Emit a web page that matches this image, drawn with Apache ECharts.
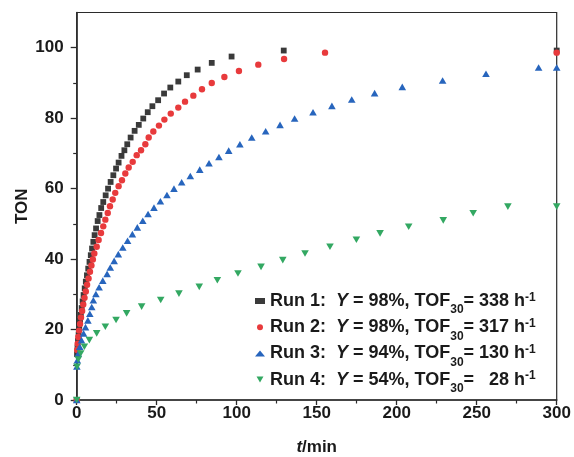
<!DOCTYPE html>
<html>
<head>
<meta charset="utf-8">
<script src="https://cdn.jsdelivr.net/npm/echarts@6/dist/echarts.min.js"></script>
<style>
  html, body { margin: 0; padding: 0; background: #ffffff; }
  #chart { width: 574px; height: 457px; }
</style>
</head>
<body>
<div id="chart"></div>
<script>
// Reaction time (min) and turnover number for four consecutive runs
const run1Time = [0, 0.2, 0.5, 0.8, 1.2, 1.6, 2.1, 2.6, 3.1, 3.7, 4.3, 5.0, 5.7, 6.4, 7.2, 8.0, 8.8, 9.6, 10.4, 11.2, 12.1, 13.1, 14.2, 15.3, 16.6, 18.1, 19.6, 21.2, 22.9, 24.6, 26.2, 28.0, 29.8, 31.6, 33.7, 36.2, 38.8, 41.6, 44.4, 47.3, 50.9, 54.6, 58.5, 63.5, 68.8, 75.6, 84.4, 96.8, 129.4, 300];
const run1Ton  = [0, 13.0, 14.9, 16.8, 18.6, 20.5, 22.4, 24.2, 26.1, 28.0, 29.8, 31.7, 33.6, 35.4, 37.3, 39.2, 41.1, 43.0, 44.9, 46.8, 48.7, 50.8, 52.5, 54.5, 56.2, 58.1, 60.0, 61.9, 63.8, 65.7, 67.4, 69.3, 70.9, 72.6, 74.5, 76.4, 78.1, 79.9, 81.7, 83.4, 85.1, 87.0, 88.7, 90.4, 92.2, 93.8, 95.7, 97.5, 99.2, 99.2];

const run2Time = [0, 0.3, 0.6, 1.0, 1.5, 2.1, 2.7, 3.4, 4.1, 4.9, 5.7, 6.5, 7.4, 8.3, 9.2, 10.1, 11.0, 12.5, 13.7, 15.2, 16.6, 17.9, 19.4, 20.8, 22.5, 24.1, 26.2, 28.3, 30.4, 32.5, 35.0, 37.5, 40.2, 42.9, 45.0, 47.9, 51.4, 54.8, 58.8, 63.5, 67.7, 72.9, 78.3, 84.4, 92.3, 101.4, 113.5, 129.6, 155.2, 300];
const run2Ton  = [0, 14.2, 16.0, 17.9, 19.7, 21.6, 23.4, 25.3, 27.1, 29.0, 30.8, 32.7, 34.5, 36.4, 38.2, 39.9, 41.6, 43.5, 45.4, 47.4, 49.3, 51.2, 53.1, 55.0, 56.9, 58.8, 60.7, 62.4, 64.3, 66.0, 67.6, 69.5, 70.9, 72.6, 74.5, 76.2, 77.9, 79.6, 81.3, 83.0, 84.7, 86.4, 88.2, 90.0, 91.7, 93.4, 95.2, 96.8, 98.6, 98.6];

const run3Time = [0, 0.1, 0.4, 1.0, 1.9, 3.0, 4.3, 5.5, 7.0, 8.2, 9.4, 10.4, 12.0, 14.0, 16.3, 19.0, 21.0, 23.4, 26.0, 28.8, 31.8, 34.8, 37.9, 41.3, 44.6, 48.3, 52.3, 56.4, 60.8, 65.6, 71.0, 76.9, 82.7, 88.9, 95.0, 102.0, 109.4, 118.1, 127.1, 136.2, 147.7, 159.5, 171.9, 186.2, 203.5, 228.7, 255.8, 288.7, 300];
const run3Ton  = [0, 9.5, 11.3, 13.2, 15.1, 17.0, 18.9, 20.7, 22.6, 24.5, 26.4, 28.3, 30.1, 32.0, 33.9, 35.8, 37.6, 39.5, 41.4, 43.3, 45.2, 47.1, 49.0, 50.9, 52.8, 54.6, 56.4, 58.2, 60.0, 61.8, 63.6, 65.4, 67.2, 69.0, 70.8, 72.6, 74.5, 76.3, 78.1, 79.9, 81.7, 83.5, 85.3, 87.1, 88.9, 90.7, 92.6, 94.4, 94.4];

const run4Time = [0, 0.2, 1.0, 2.5, 4.8, 7.9, 12.5, 17.9, 24.6, 31.2, 40.6, 52.5, 63.9, 76.6, 87.9, 100.8, 115.2, 128.8, 142.7, 158.3, 174.8, 189.6, 207.5, 229.1, 247.8, 269.5, 300];
const run4Ton  = [0, 9.4, 11.5, 13.2, 15.1, 17.0, 18.9, 20.8, 22.7, 24.6, 26.5, 28.4, 30.2, 32.1, 34.0, 35.9, 37.8, 39.7, 41.6, 43.5, 45.5, 47.3, 49.2, 51.0, 53.0, 54.9, 54.9];

// Legend entries: run label, yield, TOF at 30 min
const runNames  = ['Run 1', 'Run 2', 'Run 3', 'Run 4'];
const runYields = ['98%', '98%', '94%', '54%'];
const runTof30  = ['338', '317', '130', '  28'];

const xTicks = [0, 50, 100, 150, 200, 250, 300];
const yTicks = [0, 20, 40, 60, 80, 100];

const FONT = '"Liberation Sans", Arial, Helvetica, sans-serif';
const AXIS_COLOR = '#2b2b2b';
const TEXT_COLOR = '#1a1a1a';

function pairs(ts, vs) {
  return ts.map((t, i) => [t, vs[i]]);
}

const seriesDefs = [
  { name: runNames[0], data: pairs(run1Time, run1Ton), symbol: 'rect', size: 5.8, color: '#3a3a3a' },
  { name: runNames[1], data: pairs(run2Time, run2Ton), symbol: 'circle', size: 6.4, color: '#e83a3c' },
  { name: runNames[2], data: pairs(run3Time, run3Ton), symbol: 'triangle', size: [7.6, 6.6], color: '#2765bd' },
  { name: runNames[3], data: pairs(run4Time, run4Ton), symbol: 'path://M0,0L10,0L5,8.66Z', size: [7.6, 6.6], color: '#33a862' }
];

const legendText = {};
runNames.forEach((n, i) => {
  legendText[n] = '{b|' + n + ':  }{i|Y}{b| = ' + runYields[i] + ', TOF}{sub|30}{b|= ' + runTof30[i] + ' h}{sup|-1}';
});

const chart = echarts.init(document.getElementById('chart'), null, { renderer: 'canvas' });

chart.setOption({
  backgroundColor: '#ffffff',
  animation: false,
  grid: {
    left: 76.7, right: 17.3, top: 12.5, bottom: 57,
    outerBoundsMode: 'none',
    containLabel: false,
    show: true, borderColor: AXIS_COLOR, borderWidth: 1.2, backgroundColor: 'transparent'
  },
  xAxis: {
    type: 'value',
    min: xTicks[0], max: xTicks[xTicks.length - 1], interval: 50,
    name: '{it|t}{nm|/min}',
    nameLocation: 'middle',
    nameGap: 39,
    nameMoveOverlap: false,
    nameTextStyle: {
      rich: {
        it: { fontFamily: FONT, fontSize: 17, fontWeight: 'bold', fontStyle: 'italic', color: TEXT_COLOR },
        nm: { fontFamily: FONT, fontSize: 17, fontWeight: 'bold', color: TEXT_COLOR }
      }
    },
    axisLine: { show: true, lineStyle: { color: AXIS_COLOR, width: 1.6 } },
    axisTick: { show: true, inside: false, length: 5, lineStyle: { color: AXIS_COLOR, width: 1.3 } },
    minorTick: { show: true, splitNumber: 2, length: 3.5, lineStyle: { color: AXIS_COLOR, width: 1.2 } },
    splitLine: { show: false },
    minorSplitLine: { show: false },
    axisLabel: { margin: 5, fontFamily: FONT, fontSize: 17, fontWeight: 'bold', color: TEXT_COLOR }
  },
  yAxis: {
    type: 'value',
    min: 0, max: 110, interval: 20,
    name: 'TON',
    nameLocation: 'middle',
    nameGap: 46,
    nameMoveOverlap: false,
    nameTextStyle: { fontFamily: FONT, fontSize: 17, fontWeight: 'bold', color: TEXT_COLOR },
    axisLine: { show: true, lineStyle: { color: AXIS_COLOR, width: 1.6 } },
    axisTick: { show: true, inside: false, length: 6, customValues: yTicks, lineStyle: { color: AXIS_COLOR, width: 1.3 } },
    minorTick: { show: true, splitNumber: 2, length: 3.5, lineStyle: { color: AXIS_COLOR, width: 1.2 } },
    splitLine: { show: false },
    minorSplitLine: { show: false },
    axisLabel: {
      margin: 13, fontFamily: FONT, fontSize: 17, fontWeight: 'bold', color: TEXT_COLOR,
      customValues: yTicks
    }
  },
  legend: {
    orient: 'vertical',
    left: 255, top: 286,
    padding: 0,
    itemWidth: 10, itemHeight: 6,
    itemGap: -3.8,
    data: seriesDefs.map(s => ({ name: s.name, icon: s.symbol })),
    formatter: n => legendText[n],
    textStyle: {
      fontFamily: FONT, color: TEXT_COLOR,
      rich: {
        b:   { fontFamily: FONT, fontSize: 18, fontWeight: 'bold', color: TEXT_COLOR, lineHeight: 30 },
        i:   { fontFamily: FONT, fontSize: 18, fontWeight: 'bold', fontStyle: 'italic', color: TEXT_COLOR, lineHeight: 30 },
        sub: { fontFamily: FONT, fontSize: 12, fontWeight: 'bold', color: TEXT_COLOR, lineHeight: 1, verticalAlign: 'top', padding: [18, 0, 0, 0] },
        sup: { fontFamily: FONT, fontSize: 12, fontWeight: 'bold', color: TEXT_COLOR, lineHeight: 1, verticalAlign: 'top', padding: [5.3, 0, 0, 0] }
      }
    }
  },
  series: seriesDefs.map(s => ({
    name: s.name,
    type: 'scatter',
    data: s.data,
    symbol: s.symbol,
    symbolSize: s.size,
    clip: false,
    itemStyle: { color: s.color, opacity: 1 },
    emphasis: { disabled: true }
  }))
});
</script>
</body>
</html>
